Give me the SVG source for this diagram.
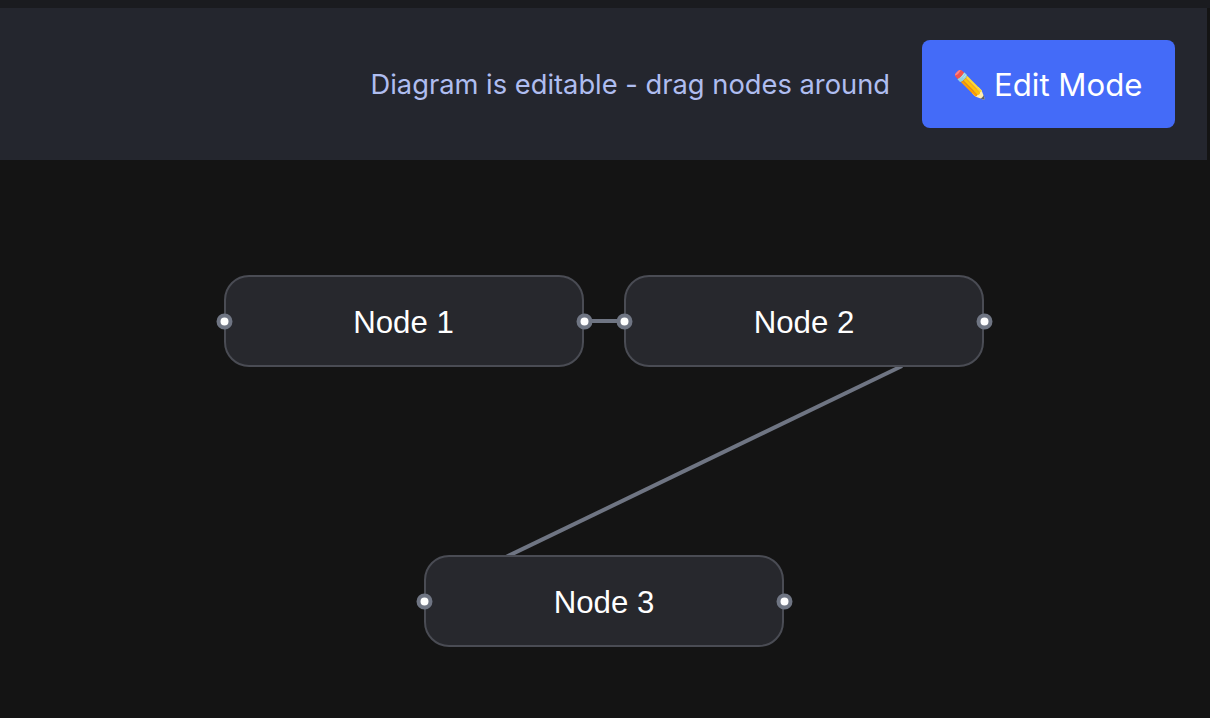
<svg xmlns="http://www.w3.org/2000/svg" width="1210" height="718" viewBox="0 0 1210 718">
<style>
.node{fill:#27282d;stroke:#4a4c54;stroke-width:2}
.lbl{font-family:"Liberation Sans",Arial,sans-serif;font-size:31.200px;fill:#fff;text-anchor:middle}
.conn{stroke:#6f7583;stroke-width:4;fill:none}
.port{fill:#fff;stroke:#6f7583;stroke-width:4}
.ui{font-family:Inter,"Noto Sans",sans-serif}
</style>
<rect width="1210" height="718" fill="#141414"/>
<rect width="1210" height="8" fill="#1a1b1f"/>
<rect x="0" y="8" width="1207" height="152" fill="#24262e"/>
<text class="ui" x="370.500" y="94" font-size="27.300" fill="#afbdf0">Diagram is editable - drag nodes around</text>
<g id="edit-button">
<rect x="922" y="40" width="253" height="88" rx="8" fill="#446bf8"/>
<text class="ui" x="953" y="94" font-size="27" fill="#fff">✏️</text>
<text class="ui" x="994" y="96" font-size="31.200" fill="#fff">Edit Mode</text>
</g>
<g id="connectors">
<line class="conn" x1="584" y1="321" x2="624" y2="321"/>
<line class="conn" x1="902" y1="366" x2="506" y2="557"/>
</g>
<g id="node-1">
<rect class="node" x="225" y="276" width="358" height="90" rx="24"/>
<text class="lbl" x="403.500" y="333">Node 1</text>
<circle class="port" cx="224.500" cy="321.500" r="6"/>
<circle class="port" cx="584.500" cy="321.500" r="6"/>
</g>
<g id="node-2">
<rect class="node" x="625" y="276" width="358" height="90" rx="24"/>
<text class="lbl" x="804" y="333">Node 2</text>
<circle class="port" cx="624.500" cy="321.500" r="6"/>
<circle class="port" cx="984.500" cy="321.500" r="6"/>
</g>
<g id="node-3">
<rect class="node" x="425" y="556" width="358" height="90" rx="24"/>
<text class="lbl" x="604" y="613">Node 3</text>
<circle class="port" cx="424.500" cy="601.500" r="6"/>
<circle class="port" cx="784.500" cy="601.500" r="6"/>
</g>
</svg>
